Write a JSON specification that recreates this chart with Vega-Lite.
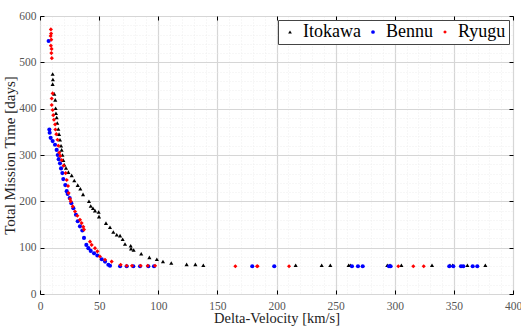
{
  "$schema": "https://vega.github.io/schema/vega-lite/v6.json",
  "width": 473,
  "height": 278,
  "autosize": {"type": "none"},
  "padding": {"left": 40, "top": 16, "right": 8, "bottom": 32},
  "background": "white",
  "config": {
    "view": {"stroke": "black", "strokeWidth": 1},
    "font": "Liberation Serif"
  },
  "data": {
    "values": [
      {"a": "Itokawa", "v": 10.7, "d": 475}, {"a": "Itokawa", "v": 10.9, "d": 463}, {"a": "Itokawa", "v": 10.7, "d": 453},
      {"a": "Itokawa", "v": 12.1, "d": 432}, {"a": "Itokawa", "v": 12.9, "d": 419}, {"a": "Itokawa", "v": 13.2, "d": 401},
      {"a": "Itokawa", "v": 13.5, "d": 390}, {"a": "Itokawa", "v": 14.1, "d": 381}, {"a": "Itokawa", "v": 14.6, "d": 369},
      {"a": "Itokawa", "v": 15.5, "d": 356}, {"a": "Itokawa", "v": 16.1, "d": 345}, {"a": "Itokawa", "v": 16.9, "d": 333},
      {"a": "Itokawa", "v": 17.8, "d": 320}, {"a": "Itokawa", "v": 18.3, "d": 311}, {"a": "Itokawa", "v": 19.0, "d": 300},
      {"a": "Itokawa", "v": 19.7, "d": 289}, {"a": "Itokawa", "v": 20.6, "d": 279}, {"a": "Itokawa", "v": 22.0, "d": 272},
      {"a": "Itokawa", "v": 24.0, "d": 263}, {"a": "Itokawa", "v": 26.8, "d": 256}, {"a": "Itokawa", "v": 29.0, "d": 245},
      {"a": "Itokawa", "v": 31.9, "d": 235}, {"a": "Itokawa", "v": 34.1, "d": 227}, {"a": "Itokawa", "v": 36.4, "d": 215},
      {"a": "Itokawa", "v": 41.4, "d": 200}, {"a": "Itokawa", "v": 42.9, "d": 190}, {"a": "Itokawa", "v": 44.8, "d": 185},
      {"a": "Itokawa", "v": 46.5, "d": 180}, {"a": "Itokawa", "v": 49.6, "d": 177}, {"a": "Itokawa", "v": 49.9, "d": 167},
      {"a": "Itokawa", "v": 55.8, "d": 153}, {"a": "Itokawa", "v": 59.2, "d": 144}, {"a": "Itokawa", "v": 62.0, "d": 134},
      {"a": "Itokawa", "v": 64.9, "d": 128}, {"a": "Itokawa", "v": 67.7, "d": 126}, {"a": "Itokawa", "v": 69.9, "d": 118},
      {"a": "Itokawa", "v": 71.9, "d": 108}, {"a": "Itokawa", "v": 76.7, "d": 104}, {"a": "Itokawa", "v": 77.0, "d": 98},
      {"a": "Itokawa", "v": 79.2, "d": 95}, {"a": "Itokawa", "v": 85.6, "d": 87}, {"a": "Itokawa", "v": 92.5, "d": 79},
      {"a": "Itokawa", "v": 98.8, "d": 75}, {"a": "Itokawa", "v": 104.0, "d": 70}, {"a": "Itokawa", "v": 111.0, "d": 67},
      {"a": "Itokawa", "v": 124.0, "d": 64}, {"a": "Itokawa", "v": 131.4, "d": 64}, {"a": "Itokawa", "v": 138.1, "d": 62},
      {"a": "Itokawa", "v": 216.2, "d": 62}, {"a": "Itokawa", "v": 238.2, "d": 62}, {"a": "Itokawa", "v": 245.5, "d": 62},
      {"a": "Itokawa", "v": 261.0, "d": 62}, {"a": "Itokawa", "v": 262.4, "d": 62}, {"a": "Itokawa", "v": 293.7, "d": 62},
      {"a": "Itokawa", "v": 296.0, "d": 62}, {"a": "Itokawa", "v": 305.6, "d": 62}, {"a": "Itokawa", "v": 331.5, "d": 62},
      {"a": "Itokawa", "v": 346.7, "d": 62}, {"a": "Itokawa", "v": 349.0, "d": 62}, {"a": "Itokawa", "v": 361.4, "d": 62},
      {"a": "Itokawa", "v": 376.6, "d": 62},

      {"a": "Bennu", "v": 7.3, "d": 546}, {"a": "Bennu", "v": 7.9, "d": 355}, {"a": "Bennu", "v": 8.2, "d": 348},
      {"a": "Bennu", "v": 9.0, "d": 337}, {"a": "Bennu", "v": 10.7, "d": 330}, {"a": "Bennu", "v": 12.7, "d": 322},
      {"a": "Bennu", "v": 14.1, "d": 311}, {"a": "Bennu", "v": 15.0, "d": 300}, {"a": "Bennu", "v": 15.8, "d": 291},
      {"a": "Bennu", "v": 16.9, "d": 282}, {"a": "Bennu", "v": 17.8, "d": 271}, {"a": "Bennu", "v": 18.9, "d": 261},
      {"a": "Bennu", "v": 19.7, "d": 248}, {"a": "Bennu", "v": 21.4, "d": 235}, {"a": "Bennu", "v": 22.6, "d": 222},
      {"a": "Bennu", "v": 23.4, "d": 216}, {"a": "Bennu", "v": 25.1, "d": 207}, {"a": "Bennu", "v": 26.5, "d": 196},
      {"a": "Bennu", "v": 28.2, "d": 185}, {"a": "Bennu", "v": 30.4, "d": 171}, {"a": "Bennu", "v": 31.9, "d": 157},
      {"a": "Bennu", "v": 33.8, "d": 146}, {"a": "Bennu", "v": 35.8, "d": 137}, {"a": "Bennu", "v": 37.2, "d": 121},
      {"a": "Bennu", "v": 39.2, "d": 106}, {"a": "Bennu", "v": 40.9, "d": 99}, {"a": "Bennu", "v": 42.9, "d": 93},
      {"a": "Bennu", "v": 45.7, "d": 88}, {"a": "Bennu", "v": 48.5, "d": 83}, {"a": "Bennu", "v": 52.2, "d": 75},
      {"a": "Bennu", "v": 55.0, "d": 70}, {"a": "Bennu", "v": 57.8, "d": 63}, {"a": "Bennu", "v": 59.2, "d": 61},
      {"a": "Bennu", "v": 67.7, "d": 60}, {"a": "Bennu", "v": 73.3, "d": 60}, {"a": "Bennu", "v": 78.9, "d": 60},
      {"a": "Bennu", "v": 84.6, "d": 60}, {"a": "Bennu", "v": 91.6, "d": 60}, {"a": "Bennu", "v": 96.4, "d": 60},
      {"a": "Bennu", "v": 179.5, "d": 60}, {"a": "Bennu", "v": 198.1, "d": 60}, {"a": "Bennu", "v": 263.8, "d": 60},
      {"a": "Bennu", "v": 268.9, "d": 60}, {"a": "Bennu", "v": 272.9, "d": 60}, {"a": "Bennu", "v": 295.1, "d": 60},
      {"a": "Bennu", "v": 296.5, "d": 60}, {"a": "Bennu", "v": 346.1, "d": 60}, {"a": "Bennu", "v": 349.5, "d": 60},
      {"a": "Bennu", "v": 356.0, "d": 60}, {"a": "Bennu", "v": 358.0, "d": 60}, {"a": "Bennu", "v": 365.9, "d": 60},
      {"a": "Bennu", "v": 369.8, "d": 60},

      {"a": "Ryugu", "v": 9.2, "d": 571}, {"a": "Ryugu", "v": 9.4, "d": 562}, {"a": "Ryugu", "v": 9.0, "d": 557},
      {"a": "Ryugu", "v": 9.5, "d": 549}, {"a": "Ryugu", "v": 9.2, "d": 536}, {"a": "Ryugu", "v": 9.8, "d": 529},
      {"a": "Ryugu", "v": 9.6, "d": 520}, {"a": "Ryugu", "v": 10.0, "d": 509},
      {"a": "Ryugu", "v": 10.7, "d": 433}, {"a": "Ryugu", "v": 9.9, "d": 422}, {"a": "Ryugu", "v": 9.9, "d": 408},
      {"a": "Ryugu", "v": 10.7, "d": 397}, {"a": "Ryugu", "v": 11.2, "d": 386}, {"a": "Ryugu", "v": 11.8, "d": 376},
      {"a": "Ryugu", "v": 12.8, "d": 366}, {"a": "Ryugu", "v": 13.0, "d": 355}, {"a": "Ryugu", "v": 13.8, "d": 345},
      {"a": "Ryugu", "v": 14.8, "d": 333}, {"a": "Ryugu", "v": 15.5, "d": 320}, {"a": "Ryugu", "v": 16.3, "d": 305},
      {"a": "Ryugu", "v": 17.2, "d": 298}, {"a": "Ryugu", "v": 18.3, "d": 289}, {"a": "Ryugu", "v": 20.0, "d": 277},
      {"a": "Ryugu", "v": 21.7, "d": 261}, {"a": "Ryugu", "v": 22.6, "d": 246}, {"a": "Ryugu", "v": 23.7, "d": 233},
      {"a": "Ryugu", "v": 24.2, "d": 218}, {"a": "Ryugu", "v": 25.4, "d": 205}, {"a": "Ryugu", "v": 26.0, "d": 200},
      {"a": "Ryugu", "v": 27.7, "d": 189}, {"a": "Ryugu", "v": 29.6, "d": 178}, {"a": "Ryugu", "v": 31.6, "d": 169},
      {"a": "Ryugu", "v": 33.8, "d": 160}, {"a": "Ryugu", "v": 35.2, "d": 153}, {"a": "Ryugu", "v": 36.6, "d": 145},
      {"a": "Ryugu", "v": 37.2, "d": 139}, {"a": "Ryugu", "v": 42.3, "d": 113}, {"a": "Ryugu", "v": 43.7, "d": 106},
      {"a": "Ryugu", "v": 46.5, "d": 99}, {"a": "Ryugu", "v": 48.5, "d": 92}, {"a": "Ryugu", "v": 50.7, "d": 81},
      {"a": "Ryugu", "v": 55.0, "d": 74}, {"a": "Ryugu", "v": 60.6, "d": 70}, {"a": "Ryugu", "v": 68.2, "d": 63},
      {"a": "Ryugu", "v": 73.3, "d": 61}, {"a": "Ryugu", "v": 77.8, "d": 61}, {"a": "Ryugu", "v": 85.1, "d": 61},
      {"a": "Ryugu", "v": 91.1, "d": 61}, {"a": "Ryugu", "v": 97.3, "d": 61}, {"a": "Ryugu", "v": 165.2, "d": 60},
      {"a": "Ryugu", "v": 183.5, "d": 60}, {"a": "Ryugu", "v": 184.0, "d": 60}, {"a": "Ryugu", "v": 210.6, "d": 60},
      {"a": "Ryugu", "v": 303.0, "d": 60}, {"a": "Ryugu", "v": 315.7, "d": 60}, {"a": "Ryugu", "v": 324.5, "d": 60}
    ]
  },
  "resolve": {"axis": {"x": "independent", "y": "independent"}},
  "layer": [
    {
      "mark": {"type": "point", "filled": true, "size": 17, "opacity": 1},
      "encoding": {
        "x": {
          "field": "v", "type": "quantitative",
          "scale": {"domain": [0, 400], "nice": false, "zero": false},
          "axis": {
            "title": "Delta-Velocity [km/s]",
            "values": [0,10,20,30,40,50,60,70,80,90,100,110,120,130,140,150,160,170,180,190,200,210,220,230,240,250,260,270,280,290,300,310,320,330,340,350,360,370,380,390,400],
            "labelExpr": "datum.value % 50 === 0 ? datum.label : ''",
            "grid": true,
            "gridColor": {"condition": {"test": "datum.value % 50 === 0", "value": "#d6d6d6"}, "value": "#ebebeb"},
            "gridDash": {"condition": {"test": "datum.value % 50 === 0", "value": []}, "value": [1, 2]},
            "gridWidth": {"condition": {"test": "datum.value % 50 === 0", "value": 1.2}, "value": 0.8},
            "ticks": true,
            "tickSize": -4,
            "tickColor": "black",
            "tickOpacity": {"condition": {"test": "datum.value % 50 === 0", "value": 1}, "value": 0},
            "domain": false,
            "labelFont": "Liberation Serif", "labelFontSize": 11.5, "labelColor": "#555555",
            "labelPadding": 10, "labelFlush": false,
            "titleFont": "Liberation Serif", "titleFontSize": 14.5, "titleFontWeight": "normal", "titleColor": "#222222",
            "titleBaseline": "alphabetic",
            "titleY": 28.5
          }
        },
        "y": {
          "field": "d", "type": "quantitative",
          "scale": {"domain": [0, 600], "nice": false, "zero": false},
          "axis": {
            "title": "Total Mission Time [days]",
            "values": [0,20,40,60,80,100,120,140,160,180,200,220,240,260,280,300,320,340,360,380,400,420,440,460,480,500,520,540,560,580,600],
            "labelExpr": "datum.value % 100 === 0 ? datum.label : ''",
            "grid": true,
            "gridColor": {"condition": {"test": "datum.value % 100 === 0", "value": "#d6d6d6"}, "value": "#ebebeb"},
            "gridDash": {"condition": {"test": "datum.value % 100 === 0", "value": []}, "value": [1, 2]},
            "gridWidth": {"condition": {"test": "datum.value % 100 === 0", "value": 1.2}, "value": 0.8},
            "ticks": true,
            "tickSize": -4,
            "tickColor": "black",
            "tickOpacity": {"condition": {"test": "datum.value % 100 === 0", "value": 1}, "value": 0},
            "domain": false,
            "labelFont": "Liberation Serif", "labelFontSize": 11.5, "labelColor": "#555555",
            "labelPadding": 8, "labelFlush": false,
            "titleFont": "Liberation Serif", "titleFontSize": 15, "titleFontWeight": "normal", "titleColor": "#222222",
            "titlePadding": 1
          }
        },
        "color": {
          "field": "a", "type": "nominal",
          "scale": {"domain": ["Itokawa", "Bennu", "Ryugu"], "range": ["#000000", "#0000ff", "#ff0000"]},
          "legend": {
            "title": null,
            "orient": "top-right",
            "direction": "horizontal",
            "offset": 4,
            "labelFont": "Liberation Serif",
            "labelFontSize": 18,
            "labelColor": "#000000",
            "symbolSize": 14,
            "symbolStrokeWidth": 0,
            "labelOffset": 4,
            "columnPadding": 3,
            "padding": 3,
            "strokeColor": "#444444",
            "fillColor": "white",
            "cornerRadius": 0
          }
        },
        "shape": {
          "field": "a", "type": "nominal",
          "scale": {"domain": ["Itokawa", "Bennu", "Ryugu"], "range": ["triangle-up", "circle", "diamond"]}
        }
      }
    },
    {
      "mark": {"type": "point", "opacity": 0},
      "encoding": {
        "x": {
          "field": "v", "type": "quantitative",
          "axis": {
            "orient": "top", "title": null, "labels": false, "grid": false, "domain": false,
            "values": [0,50,100,150,200,250,300,350,400],
            "ticks": true, "tickSize": -4, "tickColor": "black"
          }
        },
        "y": {
          "field": "d", "type": "quantitative",
          "axis": {
            "orient": "right", "title": null, "labels": false, "grid": false, "domain": false,
            "values": [0,100,200,300,400,500,600],
            "ticks": true, "tickSize": -4, "tickColor": "black"
          }
        }
      }
    }
  ]
}
